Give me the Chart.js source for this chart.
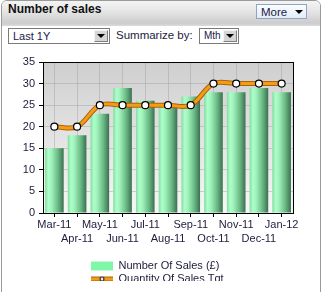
<!DOCTYPE html>
<html>
<head>
<meta charset="utf-8">
<script src="https://cdn.jsdelivr.net/npm/chart.js@4.4.0/dist/chart.umd.min.js"></script>
<style>
body { margin:0; width:322px; height:292px; overflow:hidden; background:#fff; font-family:'Liberation Sans', Arial, sans-serif; }
#panel { position:absolute; left:1px; top:0; width:318px; height:320px; border:1px solid #9a9a9a; border-radius:6px 6px 0 0; overflow:hidden; background:#fff; }
#hdr { position:absolute; left:0; top:0; width:318px; height:25px; background:linear-gradient(#f4f4f4 0%, #e6e6e6 40%, #cdcdcd 88%, #dadada 100%); }
#title { position:absolute; left:6px; top:1px; font-weight:bold; font-size:12px; line-height:14px; color:#111; }
#more { position:absolute; left:254px; top:3px; width:49px; height:13px; border:1px solid #8ea5c5; background:linear-gradient(#fbfdff, #e4ecf6); font-size:11.5px; line-height:14px; color:#1a1a4a; }
#more span.t { position:absolute; left:4px; top:0; }
.tri { position:absolute; width:0; height:0; border-left:4px solid transparent; border-right:4px solid transparent; border-top:4px solid #000; }
.sel { position:absolute; top:27px; height:14px; border:1px solid #7b7b7b; background:#fff; font-size:11px; line-height:14px; color:#1a1a4a; }
.sel span.t { position:absolute; left:4px; top:0; }
.btn { position:absolute; right:1px; top:1px; width:12px; height:10px; background:#d6d6d6; border:1px solid; border-color:#f4f4f4 #808080 #808080 #f4f4f4; }
#sumlbl { position:absolute; left:114px; top:27px; font-size:11.5px; line-height:15px; color:#1c1c3c; }
canvas { position:absolute; left:0; top:45px; }
</style>
</head>
<body>
<div id="panel">
  <div id="hdr">
    <div id="title">Number of sales</div>
    <div id="more"><span class="t">More</span><div class="tri" style="left:38px; top:5px;"></div></div>
  </div>
  <div class="sel" style="left:6px; width:100px;"><span class="t">Last 1Y</span><div class="btn"><div class="tri" style="left:2px; top:3px;"></div></div></div>
  <div id="sumlbl">Summarize by:</div>
  <div class="sel" style="left:197px; width:38px; font-size:10px;"><span class="t">Mth</span><div class="btn"><div class="tri" style="left:2px; top:3px;"></div></div></div>
  <canvas id="chart" width="318" height="246"></canvas>
</div>
<script>
const months = ['Mar-11', 'Apr-11', 'May-11', 'Jun-11', 'Jul-11', 'Aug-11', 'Sep-11', 'Oct-11', 'Nov-11', 'Dec-11', 'Jan-12'];
const salesCount = [15, 18, 23, 29, 26, 25, 27, 28, 28, 29, 28];
const salesTarget = [20, 20, 25, 25, 25, 25, 25, 30, 30, 30, 30];
const yMin = 0;
const yMax = 35;
const yStep = 5;

const barPct = 0.82;
const textColor = '#1c1c3c';

Chart.defaults.font.family = "'Liberation Sans', Arial, sans-serif";
Chart.defaults.font.size = 11;
Chart.defaults.color = textColor;

function barGradient(c) {
  const x = c.chart.scales.x;
  if (!x) return '#86eea6';
  const cx = x.getPixelForValue(c.dataIndex);
  const half = x.width / months.length * barPct / 2;
  if (!isFinite(cx) || !isFinite(half)) return '#86eea6';
  const g = c.chart.ctx.createLinearGradient(cx - half, 0, cx + half, 0);
  g.addColorStop(0, '#86dc9e');
  g.addColorStop(0.18, '#acffca');
  g.addColorStop(0.35, '#a0f2bb');
  g.addColorStop(0.7, '#69b884');
  g.addColorStop(1, '#3b7050');
  return g;
}

// small legend sample for the target line
const lineSample = document.createElement('canvas');
lineSample.width = 22;
lineSample.height = 7;
(function () {
  const s = lineSample.getContext('2d');
  s.strokeStyle = '#a8640c';
  s.lineWidth = 5;
  s.beginPath(); s.moveTo(0, 3.5); s.lineTo(22, 3.5); s.stroke();
  s.strokeStyle = '#f59b16';
  s.lineWidth = 3;
  s.beginPath(); s.moveTo(0, 3.5); s.lineTo(22, 3.5); s.stroke();
  s.fillStyle = '#fff';
  s.strokeStyle = '#000';
  s.lineWidth = 1;
  s.beginPath(); s.arc(11, 3.5, 2, 0, Math.PI * 2); s.fill(); s.stroke();
})();

const plotFrame = {
  id: 'plotFrame',
  beforeDraw(chart) {
    const { ctx, chartArea: a } = chart;
    const g = ctx.createLinearGradient(0, a.top, 0, a.bottom);
    g.addColorStop(0, '#cfcfcf');
    g.addColorStop(1, '#f7f7f7');
    ctx.save();
    ctx.fillStyle = g;
    ctx.fillRect(a.left, a.top, a.right - a.left, a.bottom - a.top);
    ctx.restore();
  },
  afterDatasetsDraw(chart) {
    const { ctx, chartArea: a } = chart;
    ctx.save();
    ctx.strokeStyle = '#000';
    ctx.lineWidth = 1;
    ctx.strokeRect(Math.round(a.left) + 0.5, Math.round(a.top) + 0.5, Math.round(a.right - a.left), Math.round(a.bottom - a.top));
    ctx.restore();
  },
  afterLayout(chart) {
    const lg = chart.legend;
    lg.left = 87;
    lg.right = 237;
    lg.top = 212.5;
  }
};

new Chart(document.getElementById('chart').getContext('2d'), {
  data: {
    labels: months,
    datasets: [{
      type: 'line',
      label: 'Quantity Of Sales Tgt',
      data: salesTarget,
      borderColor: '#f59b16',
      borderWidth: 3,
      tension: 0.35,
      pointRadius: 3.5,
      pointBackgroundColor: '#fff',
      pointBorderColor: '#000',
      pointBorderWidth: 1.2,
      order: 0
    }, {
      type: 'line',
      label: 'outline',
      data: salesTarget,
      borderColor: '#a8640c',
      borderWidth: 5,
      tension: 0.35,
      pointRadius: 0,
      order: 1
    }, {
      type: 'bar',
      label: 'Number Of Sales (£)',
      data: salesCount,
      backgroundColor: barGradient,
      categoryPercentage: 1,
      barPercentage: barPct,
      order: 2
    }]
  },
  options: {
    responsive: false,
    animation: false,
    layout: { padding: { top: 16, right: 27, bottom: 11, left: 0 } },
    scales: {
      x: {
        grid: { offset: false, color: 'rgba(160,160,160,0.45)', tickColor: '#000', tickLength: 4 },
        border: { display: false },
        ticks: {
          autoSkip: false, maxRotation: 0, padding: 1, color: textColor,
          font: { size: 11, lineHeight: 1.3 },
          callback: (v, i) => i % 2 ? ['', months[i]] : months[i]
        },
        afterFit: s => { s.height = 45; }
      },
      y: {
        min: yMin, max: yMax,
        grid: { color: 'rgba(160,160,160,0.45)', tickColor: '#000', tickLength: 4 },
        border: { display: false },
        ticks: { stepSize: yStep, padding: 4, color: textColor, font: { size: 11 } },
        afterFit: s => { s.width = 41; }
      }
    },
    plugins: {
      tooltip: { enabled: false },
      legend: {
        position: 'bottom',
        align: 'start',
        labels: {
          usePointStyle: true,
          pointStyleWidth: 22,
          boxHeight: 9,
          padding: 2,
          color: textColor,
          font: { size: 11 },
          generateLabels: chart => {
            const ds = chart.data.datasets;
            return [
              { text: ds[2].label, pointStyle: 'rect', fillStyle: '#80f7a8', strokeStyle: '#80f7a8', lineWidth: 0, fontColor: textColor, datasetIndex: 2, hidden: false },
              { text: ds[0].label, pointStyle: lineSample, fillStyle: '#f59b16', strokeStyle: '#f59b16', lineWidth: 0, fontColor: textColor, datasetIndex: 0, hidden: false }
            ];
          }
        }
      }
    }
  },
  plugins: [plotFrame]
});
</script>
</body>
</html>
